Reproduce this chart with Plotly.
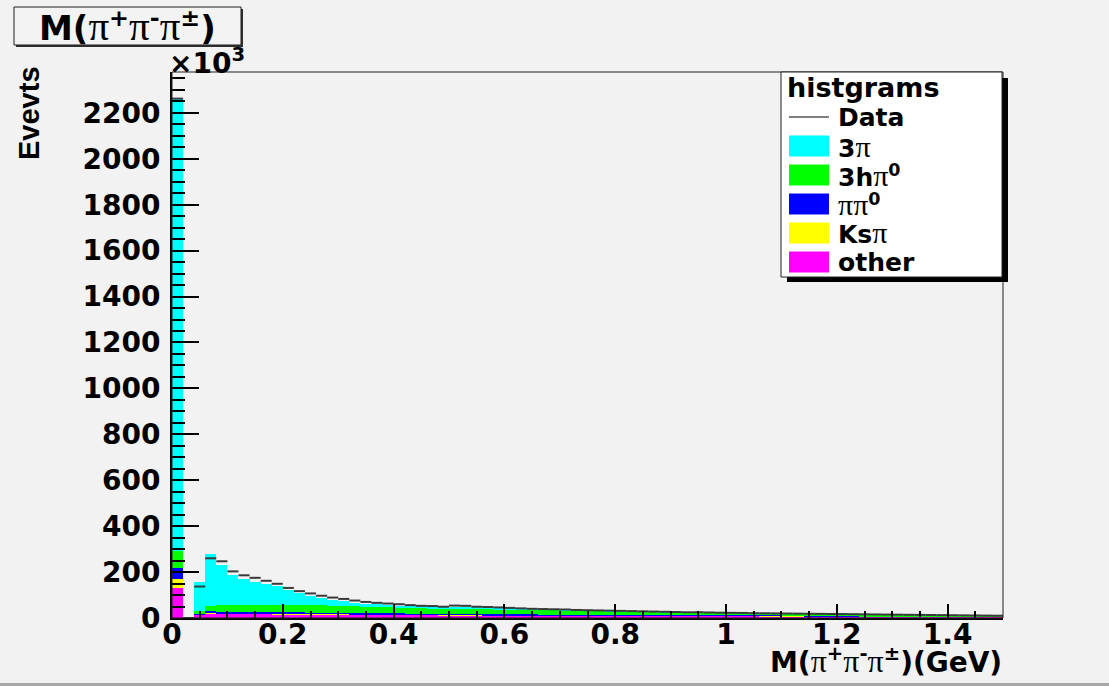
import numpy as np
import plotly.graph_objects as go

# ---------------- data (values in units of 10^3 events) ----------------
bin_width = 0.02
n_bins = 75
bin_lo = np.round(np.arange(n_bins) * bin_width, 4)
bin_center = np.round(bin_lo + bin_width / 2, 4)

other = [130, 0, 14, 19, 19, 18, 18, 18, 18, 17, 17, 17, 16, 16, 16, 16, 15, 15, 15, 15,
         14, 14, 14, 14, 13, 13, 13, 13, 12, 12, 12, 12, 12, 11, 11, 11, 11, 11, 11, 10,
         10, 10, 10, 10, 10, 10, 9, 9, 9, 9, 9,
         9, 9, 8, 8, 8, 8, 7, 7, 7, 7, 7, 6, 6, 6, 6, 6, 6, 5, 5, 5, 5, 5, 5, 5]
ks_pi = [41, 0, 1, 2, 2, 2, 2, 2, 2, 2, 2, 2, 2, 2, 2, 2, 2, 2, 2, 2,
         2, 1, 1, 1, 1, 1, 1, 1, 1, 1, 1, 1, 1, 1, 1, 1, 1, 1, 1, 1,
         1, 1, 1, 1, 1, 1, 1, 1, 1, 1, 1, 1, 1, 1, 1, 1, 1, 1, 1, 1,
         1, 1, 1, 1, 1, 1, 1, 1, 1, 1, 1, 1, 1, 1, 1]
pi_pi0 = [46, 0, 3, 9, 6, 5, 5, 5, 5, 5, 5, 5, 5, 4, 4, 4, 4, 4, 4, 4,
          4, 4, 4, 4, 4, 4, 4, 4, 4, 4, 4, 3, 3, 3, 3, 3, 3, 3, 3, 3,
          3, 3, 3, 3, 3, 3, 3, 3, 3, 3, 3,
          2, 2, 2, 2, 2, 2, 2, 2, 1.5, 1.5, 1.5, 1.5, 1.5, 1.5, 1.5, 1.5, 1.5, 1.5, 1.5, 1.5, 1.5, 1.5, 1.5, 1.5]
h3_pi0 = [74, 0, 11, 24, 30, 32, 33, 33, 33, 34, 34, 34, 34, 33,
          32, 30, 30, 29, 28, 27, 26, 26, 25, 24, 24, 25, 24, 23, 24, 22, 21,
          22, 21, 21, 20, 19, 18, 17, 16, 16, 16, 15, 14, 13, 12, 11, 12, 11, 10.5, 10, 9,
          9.5, 9, 9.5, 9, 8.5, 8, 8.5, 8, 8, 7.5, 7, 7.5, 7, 6.5, 6, 5.5, 5, 5.5, 5, 4.5, 4, 3.5, 3, 2.5]
pi3 = [1974, 0, 127, 224, 176, 130, 110, 98, 89, 81, 63, 49, 41, 33,
       24, 20, 16, 13, 11, 9, 8, 7, 6, 5, 5, 4, 4, 4, 3, 3, 3,
       2, 1.5, 1.5, 1.5, 1.5, 1.5, 1.5, 1.5, 1.5, 1, 1, 1, 1, 1, 1, 0.5, 1, 0.5, 0.5, 0.5,
       0.5, 0.5, 0.5, 0.5, 0.5, 0.5, 0.5, 0.5, 0.5, 0.5, 0.5, 0.5, 0.5, 0.5, 0.5, 0.5, 0.5, 0.5, 0.5, 0.5, 0.5, 0.5, 0.5, 0.5]
data = [2262, 0, 137, 260, 247, 203, 186, 175, 162, 149, 131, 117, 107, 97,
        89, 83, 76, 70, 66, 63, 60, 56, 53, 52, 49, 54, 53, 49, 48, 46, 44,
        42, 40, 39, 38, 37, 35, 34, 33, 32, 31, 30, 29, 28, 27, 26, 25, 25, 24, 23, 22.5,
        22, 21, 20.5, 20, 19.5, 19, 18.5, 18, 17.5, 17, 16.5, 16, 15.5, 15, 14.5, 14, 13.5, 13, 12.5, 12, 11.5, 11, 10.5, 10]

x_ticks = [0, 0.2, 0.4, 0.6, 0.8, 1, 1.2, 1.4]
x_ticklabels = ["0", "0.2", "0.4", "0.6", "0.8", "1", "1.2", "1.4"]
y_ticks = [0, 200, 400, 600, 800, 1000, 1200, 1400, 1600, 1800, 2000, 2200]
y_ticklabels = [str(v) for v in y_ticks]

series = [("other", other, "#ff00ff"), ("Ks\u03c0", ks_pi, "#ffff00"),
          ("\u03c0\u03c0\u2070", pi_pi0, "#0000ff"), ("3h\u03c0\u2070", h3_pi0, "#00ff00"),
          ("3\u03c0", pi3, "#00ffff")]

# ---------------- geometry ----------------
W, H = 1109, 686
ML, MR, MT, MB = 172, 106, 72, 68
PW, PH = W - ML - MR, H - MT - MB


def px(x):
    return (x - ML) / PW


def py(y):
    return (H - MB - y) / PH


BOLD = "DejaVu Sans"
SERIF = "Liberation Serif"


def pi(size):
    return f"<span style='font-family:{SERIF};font-weight:normal;font-size:{size}px'>\u03c0</span>"


fig = go.Figure()
for name, vals, col in series:
    fig.add_trace(go.Bar(x=bin_center, y=vals, width=bin_width, name=name,
                         marker=dict(color=col, line=dict(width=0)), showlegend=False))

# data as horizontal segments per bin
dx, dy = [], []
for lo, v in zip(bin_lo, data):
    dx += [lo, lo + bin_width, None]
    dy += [v, v, None]
fig.add_trace(go.Scatter(x=dx, y=dy, mode="lines", line=dict(color="#3a3a3a", width=2),
                         name="Data", showlegend=False))

shapes = []
annotations = []

# plot frame (thin top / right)
shapes.append(dict(type="rect", xref="paper", yref="paper", x0=0, x1=1, y0=0, y1=1,
                   line=dict(color="#202020", width=1), layer="above"))

# title box
shapes.append(dict(type="rect", xref="paper", yref="paper", x0=px(16), x1=px(243), y0=py(47), y1=py(9),
                   fillcolor="#303030", line=dict(width=0), layer="above"))
shapes.append(dict(type="rect", xref="paper", yref="paper", x0=px(14), x1=px(241), y0=py(45), y1=py(7),
                   fillcolor="#f3f3f3", line=dict(color="#202020", width=1), layer="above"))
annotations.append(dict(xref="paper", yref="paper", x=px(127), y=py(26), xanchor="center", yanchor="middle",
                        text=f"M({pi(41)}<sup>+</sup>{pi(41)}<sup>-</sup>{pi(41)}<sup>\u00b1</sup>)",
                        showarrow=False, font=dict(family=BOLD, size=34, color="black", weight="bold")))

# x10^3
annotations.append(dict(xref="paper", yref="paper", x=px(167), y=py(61), xanchor="left", yanchor="middle",
                        text="\u00d710<sup>3</sup>", showarrow=False,
                        font=dict(family=BOLD, size=28, color="black", weight="bold")))

# y title
annotations.append(dict(xref="paper", yref="paper", x=px(29), y=py(113), xanchor="center", yanchor="middle",
                        text="Evevts", textangle=-90, showarrow=False,
                        font=dict(family="Liberation Sans", size=29, color="black", weight="bold")))

# x title
annotations.append(dict(xref="paper", yref="paper", x=px(1004), y=py(660), xanchor="right", yanchor="middle",
                        text=f"M({pi(32)}<sup>+</sup>{pi(32)}<sup>-</sup>{pi(32)}<sup>\u00b1</sup>)(GeV)",
                        showarrow=False, font=dict(family=BOLD, size=28, color="black", weight="bold")))

# legend box with shadow
shapes.append(dict(type="rect", xref="paper", yref="paper", x0=px(787), x1=px(1008), y0=py(282), y1=py(78),
                   fillcolor="black", line=dict(width=0), layer="above"))
shapes.append(dict(type="rect", xref="paper", yref="paper", x0=px(781), x1=px(1002), y0=py(277), y1=py(72),
                   fillcolor="white", line=dict(color="#202020", width=1), layer="above"))
annotations.append(dict(xref="paper", yref="paper", x=px(785), y=py(87), xanchor="left", yanchor="middle",
                        text="histgrams", showarrow=False,
                        font=dict(family=BOLD, size=27, color="black", weight="bold")))
shapes.append(dict(type="line", xref="paper", yref="paper", x0=px(789), x1=px(829), y0=py(117), y1=py(117),
                   line=dict(color="black", width=1), layer="above"))
annotations.append(dict(xref="paper", yref="paper", x=px(836), y=py(117), xanchor="left", yanchor="middle",
                        text="Data", showarrow=False,
                        font=dict(family=BOLD, size=25, color="black", weight="bold")))

legend_items = [("3" + pi(30), "#00ffff", 146), ("3h" + pi(30) + "<sup>0</sup>", "#00ff00", 175),
                (pi(30) + pi(30) + "<sup>0</sup>", "#0000ff", 204), ("Ks" + pi(30), "#ffff00", 233),
                ("other", "#ff00ff", 262)]
for label, col, yc in legend_items:
    shapes.append(dict(type="rect", xref="paper", yref="paper", x0=px(789), x1=px(829),
                       y0=py(yc + 10.5), y1=py(yc - 10.5), fillcolor=col, line=dict(width=0), layer="above"))
    annotations.append(dict(xref="paper", yref="paper", x=px(836), y=py(yc), xanchor="left", yanchor="middle",
                            text=label, showarrow=False,
                            font=dict(family=BOLD, size=25, color="black", weight="bold")))

# canvas bottom border
shapes.append(dict(type="rect", xref="paper", yref="paper", x0=px(0), x1=px(W), y0=py(686), y1=py(683),
                   fillcolor="#a8a8a8", line=dict(width=0), layer="above"))

fig.update_layout(
    width=W, height=H,
    margin=dict(l=ML, r=MR, t=MT, b=MB, pad=0),
    paper_bgcolor="#f2f2f2", plot_bgcolor="#f2f2f2",
    barmode="stack", bargap=0,
    showlegend=False,
    shapes=shapes, annotations=annotations,
    xaxis=dict(range=[0, 1.5], tickmode="array", tickvals=x_ticks, ticktext=x_ticklabels,
               ticks="inside", ticklen=14, tickwidth=2, tickcolor="black",
               minor=dict(dtick=0.05, tick0=0, ticks="inside", ticklen=7, tickwidth=2, tickcolor="black"),
               showline=True, linecolor="black", linewidth=2, showgrid=False, zeroline=False,
               tickfont=dict(family=BOLD, size=28, color="black", weight="bold"), ticklabelstandoff=-10),
    yaxis=dict(range=[0, 2378], tickmode="array", tickvals=y_ticks, ticktext=y_ticklabels,
               ticks="inside", ticklen=27, tickwidth=1.5, tickcolor="black",
               minor=dict(dtick=50, tick0=0, ticks="inside", ticklen=13, tickwidth=2, tickcolor="black"),
               showline=True, linecolor="black", linewidth=2, showgrid=False, zeroline=False,
               tickfont=dict(family=BOLD, size=28, color="black", weight="bold"), ticklabelstandoff=4),
)

fig.write_html("out.html", config={"displayModeBar": False},
               post_script="document.body.style.margin='0px';")
